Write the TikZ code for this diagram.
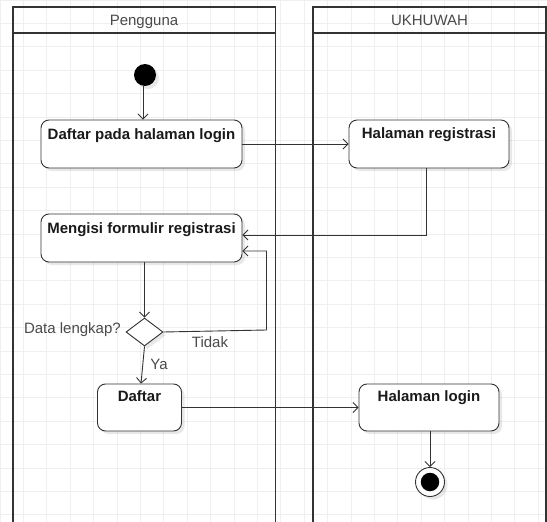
\documentclass[tikz,border=0pt]{standalone}
\usepackage{fontspec}
\setmainfont{Liberation Sans}
\usetikzlibrary{arrows.meta,shapes.geometric,shadows}
\definecolor{ink}{HTML}{333333}
\definecolor{gridc}{HTML}{EFEFEF}
\definecolor{txt}{HTML}{1A1A1A}
\definecolor{lbl}{HTML}{4A4A4A}
\tikzset{
  lane/.style={draw=ink, line width=1.8pt},
  softshadow/.style={drop shadow={shadow xshift=3pt, shadow yshift=-3pt, fill=black, opacity=0.09}},
  actbox/.style={draw=ink, line width=0.9pt, rounded corners=8pt, fill=white,
    inner sep=0pt, softshadow},
  acttext/.style={anchor=base, inner sep=0pt, text=txt, font=\fontsize{15}{18}\selectfont\bfseries},
  lanetitle/.style={anchor=base, inner sep=0pt, text=lbl, font=\fontsize{15}{18}\selectfont},
  guard/.style={inner sep=0pt, text=lbl, font=\fontsize{15}{18}\selectfont},
  flow/.style={draw=ink, line width=0.9pt, -{Straight Barb[length=5pt,width=10pt,line width=0.9pt]}},
  decision/.style={diamond, draw=ink, line width=0.9pt, fill=white, inner sep=0pt,
    aspect=1.32, minimum width=37pt, minimum height=28pt, softshadow},
}
\begin{document}
\begin{tikzpicture}[x=1pt, y=-1pt]
  \useasboundingbox (0,0) rectangle (547,522);
  \clip (0,0) rectangle (547,522);
  \fill[white] (0,0) rectangle (547,522);

  % background grid
  \foreach \i in {0,...,23} {
    \draw[gridc, line width=0.8pt] (\i*23.4,0) -- (\i*23.4,522);
  }
  \foreach \j in {0,...,22} {
    \draw[gridc, line width=0.8pt] (0,\j*23.4) -- (547,\j*23.4);
  }

  % swimlanes
  \draw[lane] (13,540) -- (13,7) -- (275.5,7) -- (275.5,540);
  \draw[lane] (13,33) -- (275.5,33);
  \draw[lane] (313,540) -- (313,7) -- (546,7) -- (546,540);
  \draw[lane] (313,33) -- (546,33);
  \node[lanetitle] (laneA) at (144,25) {Pengguna};
  \node[lanetitle] (laneB) at (429.5,25) {UKHUWAH};

  % start and end
  \node[circle, fill=black, minimum size=22pt, inner sep=0pt, softshadow] (start) at (145,75) {};
  \node[circle, draw=ink, line width=0.9pt, fill=white, minimum size=29pt, inner sep=0pt, softshadow] (end) at (430,482) {};
  \node[circle, fill=black, minimum size=18.5pt, inner sep=0pt] (endin) at (end.center) {};

  % activities
  \node[actbox, minimum width=201pt, minimum height=48pt] (b1) at (141.5,144) {};
  \node[acttext] (b1t) at ([yshift=-19.5pt]b1.north) {Daftar pada halaman login};
  \node[actbox, minimum width=201pt, minimum height=48pt] (b2) at (141.5,238) {};
  \node[acttext] (b2t) at ([yshift=-19.5pt]b2.north) {Mengisi formulir registrasi};
  \node[actbox, minimum width=160pt, minimum height=48pt] (hr) at (429,144) {};
  \node[acttext] (hrt) at ([yshift=-19pt]hr.north) {Halaman registrasi};
  \node[actbox, minimum width=84pt, minimum height=47pt] (dft) at (139.5,407.5) {};
  \node[acttext] (dftt) at ([yshift=-18pt]dft.north) {Daftar};
  \node[actbox, minimum width=140pt, minimum height=47pt] (hl) at (429,407.5) {};
  \node[acttext] (hlt) at ([yshift=-18pt]hl.north) {Halaman login};

  % decision
  \node[decision] (d) at (144.5,332) {};
  \node[guard, anchor=east] (dq) at (121,330) {Data lengkap?};
  \node[guard] (tidak) at (210,342) {Tidak};
  \node[guard] (ya) at (159,364) {Ya};

  % control flow
  \draw[flow] (start.south -| 143,0) -- (b1.north -| 143,0);
  \draw[flow] (b1.east) -- (hr.west);
  \draw[flow] ([xshift=-3pt]hr.south) |- ([yshift=3pt]b2.east);
  \draw[flow] (b2.south -| d.north) -- (d.north);
  \coordinate (loop) at (266.5,330);
  \draw[flow] (d.east) -- (loop) |- ([yshift=-13pt]b2.east);
  \draw[flow] (d.south) -- ([xshift=1.5pt]dft.north);
  \draw[flow] (dft.east) -- (hl.west);
  \draw[flow] (hl.south -| end.north) -- (end.north);
\end{tikzpicture}
\end{document}
